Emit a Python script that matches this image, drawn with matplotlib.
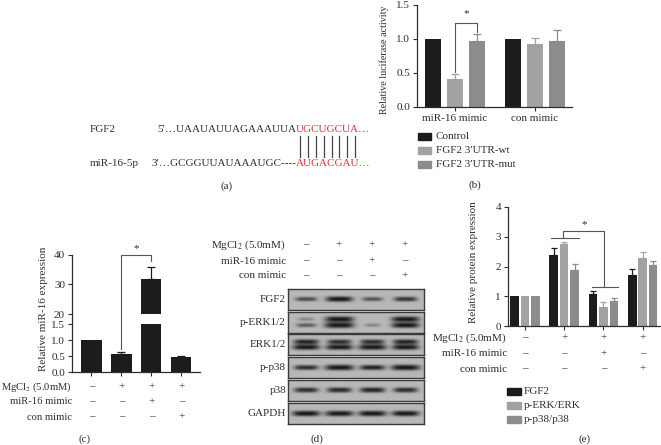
import numpy as np
import matplotlib
matplotlib.use("Agg")
import matplotlib.pyplot as plt
from matplotlib.patches import Rectangle
from matplotlib.lines import Line2D
from matplotlib.transforms import blended_transform_factory as blend
from matplotlib.font_manager import FontProperties

plt.rcParams['font.family'] = ['Liberation Serif', 'DejaVu Serif']
plt.rcParams['mathtext.fontset'] = 'stix'
plt.rcParams['font.size'] = 8
TXT = '#2e2e2e'
plt.rcParams['text.color'] = TXT
plt.rcParams['axes.edgecolor'] = TXT
plt.rcParams['xtick.color'] = TXT
plt.rcParams['ytick.color'] = TXT
plt.rcParams['axes.labelcolor'] = TXT

# ---------------- data ----------------
seq_fgf2_black = "5′…UAAUAUUAGAAAUUA"
seq_fgf2_red = "UGCUGCUA…"
seq_mir_black = "3′…GCGGUUAUAAAUGC----"
seq_mir_red = "AUGACGAU…"
seq_names = ["FGF2", "miR-16-5p"]

b_groups = ["miR-16 mimic", "con mimic"]
b_series = ["Control", "FGF2 3′UTR-wt", "FGF2 3′UTR-mut"]
b_control = [1.0, 1.0]
b_control_err = [0.0, 0.0]
b_wt = [0.41, 0.92]
b_wt_err = [0.08, 0.09]
b_mut = [0.97, 0.97]
b_mut_err = [0.11, 0.16]
b_yticks = [0.0, 0.5, 1.0, 1.5]

cond_rows = ["MgCl$_2$ (5.0mM)", "miR-16 mimic", "con mimic"]
cond_mgcl2 = ["–", "+", "+", "+"]
cond_mir16 = ["–", "–", "+", "–"]
cond_con = ["–", "–", "–", "+"]

c_values = [1.0, 0.55, 32.0, 0.46]
c_err = [0.0, 0.06, 4.0, 0.04]
c_low_ticks = [0.0, 0.5, 1.0, 1.5]
c_high_ticks = [20, 30, 40]

blot_labels = ["FGF2", "p-ERK1/2", "ERK1/2", "p-p38", "p38", "GAPDH"]
fgf2_band = [0.55, 0.85, 0.5, 0.65]
perk_upper = [0.25, 0.95, 0.0, 0.9]
perk_lower = [0.45, 1.0, 0.25, 0.9]
erk_upper = [0.75, 0.7, 0.7, 0.75]
erk_lower = [0.85, 0.85, 0.9, 0.85]
pp38_band = [0.7, 0.95, 0.75, 0.95]
p38_band = [0.7, 0.72, 0.75, 0.7]
gapdh_band = [0.9, 0.9, 0.9, 0.88]

e_series = ["FGF2", "p-ERK/ERK", "p-p38/p38"]
e_fgf2 = [1.0, 2.40, 1.07, 1.73]
e_fgf2_err = [0.0, 0.22, 0.10, 0.19]
e_perk = [1.0, 2.77, 0.65, 2.27]
e_perk_err = [0.0, 0.06, 0.15, 0.23]
e_pp38 = [1.0, 1.87, 0.83, 2.05]
e_pp38_err = [0.0, 0.23, 0.12, 0.13]
e_yticks = [0, 1, 2, 3, 4]

C_BLACK = '#1c1c1c'
C_LIGHT = '#a2a2a2'
C_MID = '#8c8c8c'
RED = '#e0323c'

# ---------------- layout helpers ----------------
W, H = 661, 445
fig = plt.figure(figsize=(W / 100, H / 100), dpi=100)


def ax_at(l, t, r, b):
    return fig.add_axes([l / W, 1 - b / H, (r - l) / W, (b - t) / H])


def ftext(x, y, s, **kw):
    kw.setdefault('va', 'center')
    return fig.text(x / W, 1 - y / H, s, **kw)


def style(ax):
    for s in ['top', 'right']:
        ax.spines[s].set_visible(False)
    for s in ['left', 'bottom']:
        ax.spines[s].set_linewidth(0.9)
    ax.tick_params(direction='out', length=3, width=0.8, labelsize=8, pad=2)


def cond_table(ax, xs, ys, xlab, fs=8):
    tr = blend(ax.transData, fig.transFigure)
    for row, y, signs in zip(cond_rows, ys, [cond_mgcl2, cond_mir16, cond_con]):
        ftext(xlab, y, row, ha='right', fontsize=fs)
        for x, s in zip(xs, signs):
            ax.text(x, 1 - y / H, s, transform=tr, ha='center', va='center', fontsize=8)


# ---------------- (a) sequence ----------------
fp = FontProperties(family=['Liberation Serif', 'DejaVu Serif'], size=8)
ftext(90, 129, seq_names[0], ha='left')
ftext(90, 164, seq_names[1], ha='left')
xr = 296
ftext(xr, 129, seq_fgf2_black, ha='right', fontproperties=fp)
ftext(xr, 129, seq_fgf2_red, ha='left', color=RED, fontproperties=fp)
ftext(xr, 164, seq_mir_black, ha='right', fontproperties=fp)
ftext(xr, 164, seq_mir_red, ha='left', color=RED, fontproperties=fp)
renderer = fig.canvas.get_renderer()
letters = seq_fgf2_red.rstrip('…')
for i in range(len(letters)):
    w0 = renderer.get_text_width_height_descent(letters[:i], fp, ismath=False)[0] if i else 0
    w1 = renderer.get_text_width_height_descent(letters[:i + 1], fp, ismath=False)[0]
    xc = xr + (w0 + w1) / 2
    fig.add_artist(Line2D([xc / W, xc / W], [1 - 136 / H, 1 - 157 / H],
                          transform=fig.transFigure, color='#444444', lw=0.9))
ftext(227, 186, "(a)", ha='center')

# ---------------- (b) luciferase ----------------
axb = ax_at(417, 5, 572, 107)
style(axb)
gx = np.arange(len(b_groups))
off = 0.275
bw = 0.19
for k, (vals, errs, col) in enumerate([(b_control, b_control_err, C_BLACK),
                                        (b_wt, b_wt_err, C_LIGHT),
                                        (b_mut, b_mut_err, C_MID)]):
    x = gx + (k - 1) * off
    axb.bar(x, vals, bw, color=col, zorder=2)
    e = np.array(errs)
    m = e > 0
    axb.errorbar(x[m], np.array(vals)[m], yerr=[np.zeros(m.sum()), e[m]], fmt='none',
                 ecolor=col, elinewidth=0.9, capsize=3, capthick=0.9, zorder=1)
axb.set_ylim(0, 1.5)
axb.set_xlim(-0.475, 1.4625)
axb.set_yticks(b_yticks)
axb.set_yticklabels([f"{v:.1f}" for v in b_yticks])
axb.set_xticks(gx)
axb.set_xticklabels(b_groups, fontsize=8)
axb.set_ylabel("Relative luciferase activity", fontsize=7.2)
axb.yaxis.set_label_coords(-0.18, 0.46)
x1, x2 = gx[0], gx[0] + off
axb.plot([x1, x1, x2, x2], [b_wt[0] + b_wt_err[0] + 0.02, 1.24, 1.24, b_mut[0] + b_mut_err[0] + 0.02],
         color='#555555', lw=0.8, clip_on=False)
axb.text((x1 + x2) / 2, 1.3, "*", ha='center', va='bottom', fontsize=8)
for k, (name, col) in enumerate(zip(b_series, [C_BLACK, C_LIGHT, C_MID])):
    yc = 136.5 + k * 14.2
    fig.add_artist(Rectangle((418 / W, 1 - (yc + 3.5) / H), 13 / W, 7 / H,
                             transform=fig.transFigure, color=col))
    ftext(436, yc, name, ha='left')
ftext(475, 185, "(b)", ha='center')

# ---------------- (c) miR-16 expression (broken axis) ----------------
cx = np.arange(len(c_values))
cw = 0.67
axc_hi = ax_at(72, 255, 200, 314)
axc_lo = ax_at(72, 324, 200, 372)
for ax, lo, hi in [(axc_hi, 20, 40), (axc_lo, 0, 1.5)]:
    style(ax)
    ax.bar(cx, c_values, cw, color=C_BLACK, zorder=2)
    ax.errorbar(cx[1:], c_values[1:], yerr=[np.zeros(3), c_err[1:]], fmt='none',
                ecolor=C_BLACK, elinewidth=0.9, capsize=3, capthick=0.9, zorder=1)
    ax.set_ylim(lo, hi)
    ax.set_xlim(-0.65, 3.62)
axc_hi.spines['bottom'].set_visible(False)
axc_hi.set_xticks([])
axc_hi.set_yticks(c_high_ticks)
axc_lo.set_yticks(c_low_ticks)
axc_lo.set_yticklabels([f"{v:.1f}" for v in c_low_ticks])
axc_lo.set_xticks(cx)
axc_lo.set_xticklabels([])
fig.add_artist(Line2D([72 / W, 72 / W], [1 - 314 / H, 1 - 324 / H],
                      transform=fig.transFigure, color=TXT, lw=0.9))
ftext(43, 309, "Relative miR-16 expression", ha='center', rotation=90)
inv = fig.transFigure.inverted()
pts = [axc_lo.transData.transform((1, c_values[1] + c_err[1] + 0.12)),
       axc_hi.transData.transform((1, 40)),
       axc_hi.transData.transform((2, 40)),
       axc_hi.transData.transform((2, c_values[2] + c_err[2] + 2))]
pts = inv.transform(np.array(pts))
fig.add_artist(Line2D(pts[:, 0], pts[:, 1], transform=fig.transFigure, color='#555555', lw=0.8))
axc_hi.text(1.5, 40.5, "*", ha='center', va='bottom', fontsize=8, clip_on=False)
cond_table(axc_lo, cx, [387, 402, 417], 72, fs=7.6)
ftext(85, 439, "(c)", ha='center')

# ---------------- (d) western blot ----------------
blot_bands = [
    [(0.48, fgf2_band)],
    [(0.34, perk_upper), (0.63, perk_lower)],
    [(0.37, erk_upper), (0.63, erk_lower)],
    [(0.5, pp38_band)],
    [(0.5, p38_band)],
    [(0.5, gapdh_band)],
]
blot_tops = [289, 312, 334, 357, 380, 403]
xl, xh = -0.545, 3.58
xs = np.linspace(xl, xh, 320)
ys = np.linspace(0, 1, 60)
X, Y = np.meshgrid(xs, ys)
bg = 0.72
for lab, top, bands in zip(blot_labels, blot_tops, blot_bands):
    ax = ax_at(288, top, 424, top + 21)
    dark = np.zeros_like(X)
    for yc, inten in bands:
        for i, a in enumerate(inten):
            if a <= 0:
                continue
            hw = 0.17 + 0.28 * a
            sy = 0.065 + 0.075 * a
            dark += min(1.0, 1.25 * a) * np.exp(-(np.abs(X - i) / hw) ** 4) \
                * np.exp(-(np.abs(Y - yc) / sy) ** 2.5)
    dark = np.clip(dark, 0, 1)
    img = bg - (bg - 0.1) * dark
    ax.imshow(img, cmap='gray', vmin=0, vmax=1, extent=(xl, xh, 1, 0), aspect='auto',
              interpolation='bilinear')
    ax.set_xlim(xl, xh)
    ax.set_ylim(1, 0)
    ax.set_xticks([])
    ax.set_yticks([])
    for s in ax.spines.values():
        s.set_color('#3a3a3a')
        s.set_linewidth(1.0)
    ftext(286, top + 10.5, lab, ha='right')
    blot_ax = ax
cond_table(blot_ax, np.arange(4), [245, 261, 276], 286)
ftext(317, 439, "(d)", ha='center')

# ---------------- (e) protein expression ----------------
axe = ax_at(508, 207, 660, 326)
style(axe)
ex = np.arange(4)
eo = 0.265
ew = 0.22
for k, (vals, errs, col) in enumerate([(e_fgf2, e_fgf2_err, C_BLACK),
                                        (e_perk, e_perk_err, C_LIGHT),
                                        (e_pp38, e_pp38_err, C_MID)]):
    x = ex + (k - 1) * eo
    axe.bar(x, vals, ew, color=col, zorder=2)
    e = np.array(errs)
    m = e > 0
    axe.errorbar(x[m], np.array(vals)[m], yerr=[np.zeros(m.sum()), e[m]], fmt='none',
                 ecolor=col, elinewidth=0.9, capsize=2.5, capthick=0.9, zorder=1)
axe.set_ylim(0, 4)
axe.set_xlim(-0.43, 3.44)
axe.set_yticks(e_yticks)
axe.set_xticks(ex)
axe.set_xticklabels([])
ftext(473, 262, "Relative protein expression", ha='center', rotation=90)
axe.plot([1 - 0.34, 1 + 0.37], [2.96, 2.96], color='#555555', lw=0.8)
axe.plot([2 - 0.3, 2 + 0.38], [1.3, 1.3], color='#555555', lw=0.8)
axe.plot([0.97, 0.97, 2.02, 2.02], [2.96, 3.2, 3.2, 1.3], color='#555555', lw=0.8)
axe.text(1.5, 3.25, "*", ha='center', va='bottom', fontsize=8)
cond_table(axe, ex, [338, 354, 369], 507)
for k, (name, col) in enumerate(zip(e_series, [C_BLACK, C_LIGHT, C_MID])):
    yc = 391 + k * 14
    fig.add_artist(Rectangle((507 / W, 1 - (yc + 3.5) / H), 14 / W, 7 / H,
                             transform=fig.transFigure, color=col))
    ftext(524, yc, name, ha='left')
ftext(585, 439, "(e)", ha='center')

fig.savefig("out.png", dpi=100)
